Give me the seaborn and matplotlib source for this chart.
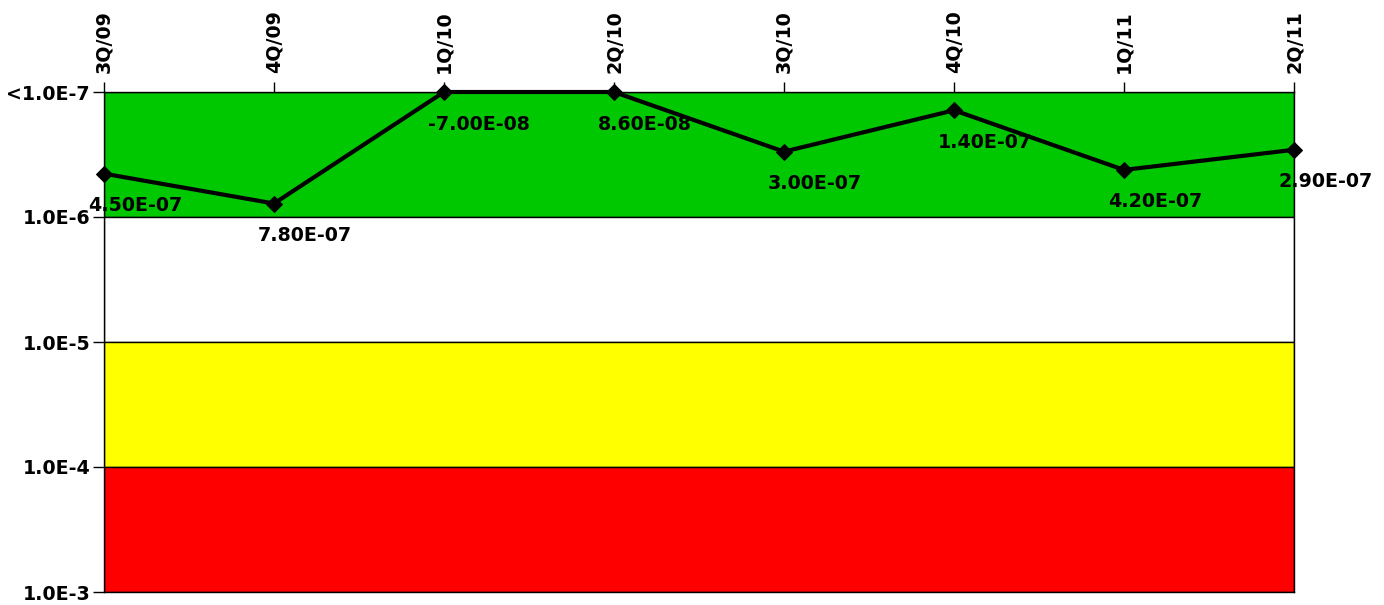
import matplotlib
matplotlib.use("Agg")
import numpy as np
import pandas as pd
import matplotlib.pyplot as plt
from matplotlib.ticker import NullLocator
import seaborn as sns

#Chart data
quarters = ["3Q/09", "4Q/09", "1Q/10", "2Q/10", "3Q/10", "4Q/10", "1Q/11", "2Q/11"]
values = [4.5e-7, 7.8e-7, -7.0e-8, 8.6e-8, 3.0e-7, 1.4e-7, 4.2e-7, 2.9e-7]

#Risk bands (limits on the log axis) and their fill colours
band_edges = [1e-7, 1e-6, 1e-5, 1e-4, 1e-3]
band_colors = ["#00c800", "#ffffff", "#ffff00", "#ff0000"]
ytick_labels = ["<1.0E-7", "1.0E-6", "1.0E-5", "1.0E-4", "1.0E-3"]

#Values below the axis floor are drawn at the floor
floor = band_edges[0]
df = pd.DataFrame({"pos": range(len(quarters)), "quarter": quarters, "value": values})
df["plotted"] = df["value"].clip(lower=floor)

sns.set_style("white")
plt.rcParams["font.family"] = ["DejaVu Sans"]
plt.rcParams["font.weight"] = "bold"
plt.rcParams["text.color"] = "black"
plt.rcParams["xtick.color"] = "black"
plt.rcParams["ytick.color"] = "black"
plt.rcParams["xtick.labelcolor"] = "black"
plt.rcParams["ytick.labelcolor"] = "black"
fs = 13.7

fig = plt.figure(figsize=(13.84, 6.05), dpi=100)
ax = fig.add_axes([104 / 1384, 13 / 605, 1190 / 1384, 500 / 605])
ax.set_yscale("log")

#Coloured bands
for lo, hi, c in zip(band_edges[:-1], band_edges[1:], band_colors):
    ax.axhspan(lo, hi, facecolor=c, edgecolor="black", linewidth=1, zorder=0)

#Line with diamond markers
sns.lineplot(data=df, x="pos", y="plotted", color="black", linewidth=3,
             marker="D", markersize=8, markeredgecolor="black",
             ax=ax, clip_on=False, zorder=3)

#Value labels
for i, (y, v) in enumerate(zip(df["plotted"], df["value"])):
    ax.annotate(f"{v:.2E}", xy=(i, y), xytext=(-16, -32), textcoords="offset pixels",
                ha="left", va="center", fontsize=fs, fontweight="bold",
                color="black", annotation_clip=False, zorder=4)

ax.set_xlim(0, len(quarters) - 1)
ax.set_ylim(band_edges[-1], band_edges[0])

ax.xaxis.tick_top()
ax.set_xticks(df["pos"])
ax.set_xticklabels(quarters, rotation=90)
ax.set_yticks(band_edges)
ax.set_yticklabels(ytick_labels)
ax.yaxis.set_minor_locator(NullLocator())

ax.tick_params(axis="x", top=True, bottom=False, length=7, pad=7, width=1,
               color="black", labelcolor="black", labelsize=fs)
ax.tick_params(axis="y", left=True, length=8, pad=2, width=1,
               color="black", labelcolor="black", labelsize=fs)
ax.set_xlabel("")
ax.set_ylabel("")

for s in ax.spines.values():
    s.set_color("black")
    s.set_linewidth(1)

fig.savefig("out.png", dpi=100)
